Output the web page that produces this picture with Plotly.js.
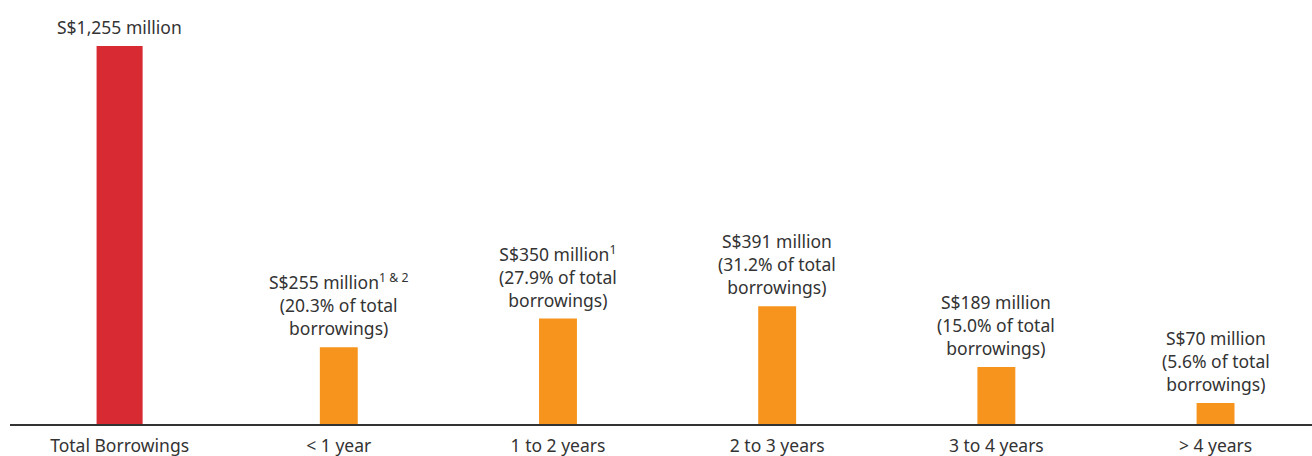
<!DOCTYPE html>
<html>
<head>
<meta charset="utf-8">
<script src="https://cdn.plot.ly/plotly-3.0.1.min.js"></script>
<style>html,body{margin:0;padding:0;background:#fff;}#chart{width:1312px;height:456px;}</style>
</head>
<body>
<div id="chart"></div>
<script>
var categories = ["Total Borrowings", "< 1 year", "1 to 2 years", "2 to 3 years", "3 to 4 years", "> 4 years"];
var values = [1255, 255, 350, 391, 189, 70];
var shares = [null, 20.3, 27.9, 31.2, 15.0, 5.6];
var footnotes = ["", "1 &amp; 2", "1", "", "", ""];

var colors = values.map(function(v, i){ return i === 0 ? "#d72a32" : "#f7941e"; });
var widths = values.map(function(v, i){ return i === 0 ? 0.21 : 0.173; });

var labels = values.map(function(v, i){
  var t = "S$" + v.toLocaleString("en-US") + " million";
  if (footnotes[i]) t += "<sup>" + footnotes[i] + "</sup>";
  if (shares[i] !== null) t += "<br>(" + shares[i].toFixed(1) + "% of total<br>borrowings)";
  return t;
});

var trace = {
  type: "bar",
  x: categories,
  y: values,
  width: widths,
  marker: {color: colors},
  hoverinfo: "none"
};

var annotations = categories.map(function(c, i){
  return {
    x: c, y: values[i], xref: "x", yref: "y",
    text: labels[i], showarrow: false,
    yanchor: "bottom", yshift: 5,
    font: {family: "Noto Sans, sans-serif", size: 17.5, color: "#333333"},
    align: "center"
  };
});

var layout = {
  width: 1312, height: 456,
  margin: {l: 10, r: 0, t: 0, b: 32},
  paper_bgcolor: "#ffffff", plot_bgcolor: "#ffffff",
  showlegend: false,
  xaxis: {
    type: "category", range: [-0.5, 5.44],
    showline: true, linecolor: "#333333", linewidth: 1.5,
    ticks: "", showgrid: false, zeroline: false,
    ticklabelstandoff: 5,
    tickfont: {family: "Noto Sans, sans-serif", size: 17.5, color: "#333333"}
  },
  yaxis: {
    range: [0, 1407.7], visible: false, showgrid: false, zeroline: false
  },
  annotations: annotations
};

Plotly.newPlot("chart", [trace], layout, {displayModeBar: false, staticPlot: true});
</script>
</body>
</html>
